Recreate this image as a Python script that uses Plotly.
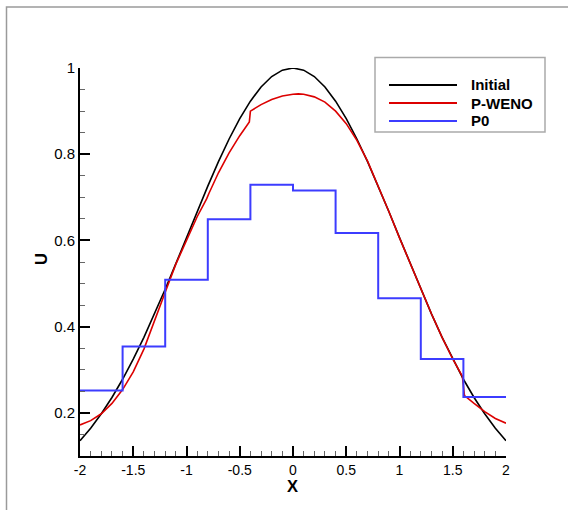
import plotly.graph_objects as go

# ---------------- data ----------------
x_init = [-2.0, -1.9, -1.8, -1.7, -1.6, -1.5, -1.4, -1.3, -1.2, -1.1, -1.0,
          -0.9, -0.8, -0.7, -0.6, -0.5, -0.4, -0.3, -0.2, -0.1, 0.0,
          0.1, 0.2, 0.3, 0.4, 0.5, 0.6, 0.7, 0.8, 0.9, 1.0,
          1.1, 1.2, 1.3, 1.4, 1.5, 1.6, 1.7, 1.8, 1.9, 2.0]
u_init = [0.1353, 0.1645, 0.1979, 0.2357, 0.2780, 0.3247, 0.3753, 0.4296, 0.4868, 0.5461, 0.6065,
          0.6670, 0.7261, 0.7827, 0.8353, 0.8825, 0.9231, 0.9560, 0.9802, 0.9950, 1.0000,
          0.9950, 0.9802, 0.9560, 0.9231, 0.8825, 0.8353, 0.7827, 0.7261, 0.6670, 0.6065,
          0.5461, 0.4868, 0.4296, 0.3753, 0.3247, 0.2780, 0.2357, 0.1979, 0.1645, 0.1353]

x_weno = [-2.0, -1.9, -1.8, -1.7, -1.6, -1.5, -1.4, -1.3, -1.2, -1.1, -1.0,
          -0.9, -0.81, -0.79, -0.7, -0.6, -0.5, -0.41, -0.4, -0.3, -0.2, -0.1,
          0.0, 0.05, 0.1, 0.2, 0.3, 0.4, 0.5, 0.6, 0.7, 0.8, 0.9, 1.0,
          1.1, 1.2, 1.3, 1.4, 1.5, 1.59, 1.61, 1.7, 1.8, 1.9, 2.0]
u_weno = [0.172, 0.182, 0.198, 0.222, 0.254, 0.295, 0.348, 0.412, 0.480, 0.545, 0.602,
          0.655, 0.697, 0.709, 0.757, 0.803, 0.843, 0.875, 0.900, 0.915, 0.927, 0.935,
          0.939, 0.940, 0.939, 0.933, 0.921, 0.900, 0.871, 0.832, 0.784, 0.727, 0.667, 0.606,
          0.546, 0.487, 0.430, 0.375, 0.325, 0.285, 0.240, 0.222, 0.203, 0.187, 0.176]

x_p0_edges = [-2.0, -1.6, -1.2, -0.8, -0.4, 0.0, 0.4, 0.8, 1.2, 1.6, 2.0]
u_p0 = [0.252, 0.354, 0.509, 0.649, 0.729, 0.716, 0.617, 0.466, 0.325, 0.237]

series_names = ["Initial", "P-WENO", "P0"]
series_colors = ["#000000", "#dc0000", "#3c3cff"]

x_ticks = [-2, -1.5, -1, -0.5, 0, 0.5, 1, 1.5, 2]
x_ticktext = ["-2", "-1.5", "-1", "-0.5", "0", "0.5", "1", "1.5", "2"]
y_ticks = [0.2, 0.4, 0.6, 0.8, 1.0]
y_ticktext = ["0.2", "0.4", "0.6", "0.8", "1"]
x_title, y_title = "X", "U"

# ---------------- layout geometry (pixels) ----------------
W, H = 568, 510
L, R, T, B = 80, 62, 68, 54
PW, PH = W - L - R, H - T - B


def px(xp):
    return (xp - L) / PW


def py(yp):
    return (H - B - yp) / PH


fig = go.Figure()
fig.add_trace(go.Scatter(x=x_init, y=u_init, mode="lines", name=series_names[0],
                         line=dict(color=series_colors[0], width=1.6), showlegend=False))
fig.add_trace(go.Scatter(x=x_weno, y=u_weno, mode="lines", name=series_names[1],
                         line=dict(color=series_colors[1], width=1.6), showlegend=False))
fig.add_trace(go.Scatter(x=x_p0_edges, y=u_p0 + [u_p0[-1]], mode="lines", name=series_names[2],
                         line=dict(color=series_colors[2], width=2, shape="hv"), showlegend=False))

FAM = "Liberation Sans, Arial, sans-serif"
font_xtick = dict(family=FAM, size=14, color="black")
font_ytick = dict(family=FAM, size=15, color="black")
font_title = dict(family=FAM, size=16.5, color="black")

fig.update_layout(
    width=W, height=H,
    margin=dict(l=L, r=R, t=T, b=B),
    paper_bgcolor="white", plot_bgcolor="white",
    showlegend=False,
    xaxis=dict(range=[-2, 2], tickvals=x_ticks, ticktext=x_ticktext,
               showline=True, linecolor="black", linewidth=2,
               ticks="inside", ticklen=10, tickwidth=2, tickcolor="black",
               showgrid=False, zeroline=False, tickfont=font_xtick,
               minor=dict(dtick=0.1, ticks="inside", ticklen=5, tickwidth=1,
                          tickcolor="#666666", showgrid=False)),
    yaxis=dict(range=[0.1, 1.0], tickvals=y_ticks, ticktext=y_ticktext,
               showline=True, linecolor="black", linewidth=2,
               ticks="inside", ticklen=10, tickwidth=2, tickcolor="black",
               showgrid=False, zeroline=False, tickfont=font_ytick,
               minor=dict(dtick=0.05, ticks="inside", ticklen=5, tickwidth=1,
                          tickcolor="#666666", showgrid=False)),
)

# axis titles
fig.add_annotation(xref="paper", yref="paper", x=px(292.7), y=py(486),
                   text=f"<b>{x_title}</b>", showarrow=False, xanchor="center", yanchor="middle",
                   font=font_title)
fig.add_annotation(xref="paper", yref="paper", x=px(41), y=py(259),
                   text=f"<b>{y_title}</b>", showarrow=False, xanchor="center", yanchor="middle",
                   textangle=-90, font=font_title)

# outer frame (only top and left visible)
fig.add_shape(type="path", xref="paper", yref="paper",
              path=f"M {px(6.5)},{py(530)} L {px(6.5)},{py(7)} L {px(620)},{py(7)}",
              line=dict(color="#9a9a9a", width=1.5))

# legend box
fig.add_shape(type="rect", xref="paper", yref="paper",
              x0=px(375), x1=px(545), y0=py(132), y1=py(57.5),
              line=dict(color="#aaaaaa", width=1.5), fillcolor="white", layer="above")
rows_y = [85, 103, 121]
for name, color, ry in zip(series_names, series_colors, rows_y):
    fig.add_shape(type="line", xref="paper", yref="paper",
                  x0=px(389), x1=px(457), y0=py(ry), y1=py(ry),
                  line=dict(color=color, width=2), layer="above")
    fig.add_annotation(xref="paper", yref="paper", x=px(469), y=py(ry),
                       text=f"<b>{name}</b>", showarrow=False, xanchor="left", yanchor="middle",
                       font=dict(family=FAM, size=15, color="black"))

fig.write_html("out.html", config={"displayModeBar": False},
               post_script="document.body.style.margin='0';document.body.style.overflow='hidden';")
